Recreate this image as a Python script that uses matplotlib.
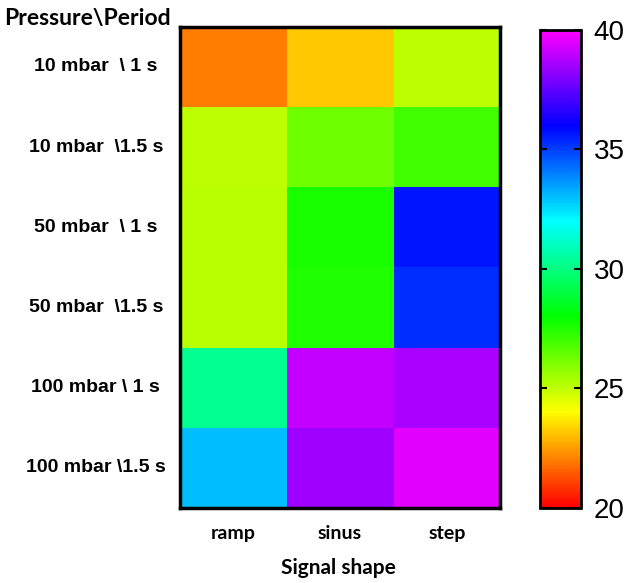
import numpy as np
import matplotlib
matplotlib.use("Agg")
import matplotlib.pyplot as plt
from matplotlib.colors import LinearSegmentedColormap

# ── data ──────────────────────────────────────────────────────────────────────
signal_shapes = ["ramp", "sinus", "step"]
conditions = ["10 mbar  \\ 1 s", "10 mbar  \\1.5 s", "50 mbar  \\ 1 s",
              "50 mbar  \\1.5 s", "100 mbar \\ 1 s", "100 mbar \\1.5 s"]
ramp  = [22.0, 25.0, 25.1, 25.1, 30.3, 33.0]
sinus = [23.2, 26.3, 27.6, 27.5, 39.0, 38.5]
step  = [25.0, 27.0, 35.7, 35.3, 38.6, 39.5]
vmin, vmax = 20, 40
cbar_ticks = [20, 25, 30, 35, 40]

values = np.column_stack([ramp, sinus, step])

# red -> yellow -> green -> cyan -> blue -> magenta
cmap = LinearSegmentedColormap.from_list(
    "prism_rainbow", ["#ff0000", "#ffff00", "#00ff00", "#00ffff", "#0000ff", "#ff00ff"])

fig = plt.figure(figsize=(6.38, 5.83), dpi=100)
ax = fig.add_axes([0.282, 0.129, 0.502, 0.825])
cax = fig.add_axes([0.846, 0.129, 0.065, 0.820])

im = ax.imshow(values, cmap=cmap, vmin=vmin, vmax=vmax, aspect="auto",
               interpolation="nearest")
ax.set_xticks([])
ax.set_yticks([])
for s in ax.spines.values():
    s.set_linewidth(2.5)
    s.set_color("black")

# row labels (centred in the left margin)
lab_tr = matplotlib.transforms.blended_transform_factory(fig.transFigure, ax.transData)
for i, txt in enumerate(conditions):
    ax.text(0.150, i, txt, transform=lab_tr, ha="center", va="center",
            fontsize=14, fontweight="bold", family="Liberation Sans")

# column labels
col_tr = matplotlib.transforms.blended_transform_factory(ax.transData, fig.transFigure)
for j, txt in enumerate(signal_shapes):
    ax.text(j, 0.085, txt, transform=col_tr, ha="center", va="center",
            fontsize=14, fontweight="bold", family="Lato")

fig.text(0.530, 0.025, "Signal shape", ha="center", va="center",
         fontsize=15, fontweight="bold", family="Lato")
fig.text(0.006, 0.968, "Pressure\\Period", ha="left", va="center",
         fontsize=16.5, fontweight="bold", family="Lato")

# colorbar
cb = fig.colorbar(im, cax=cax, ticks=cbar_ticks)
cb.outline.set_linewidth(2)
cax.tick_params(direction="in", length=5, width=1.5, left=True, right=True,
                labelsize=20, pad=9)
for t in cax.get_yticklabels():
    t.set_family("Liberation Sans")

fig.savefig("out.png", dpi=100)
